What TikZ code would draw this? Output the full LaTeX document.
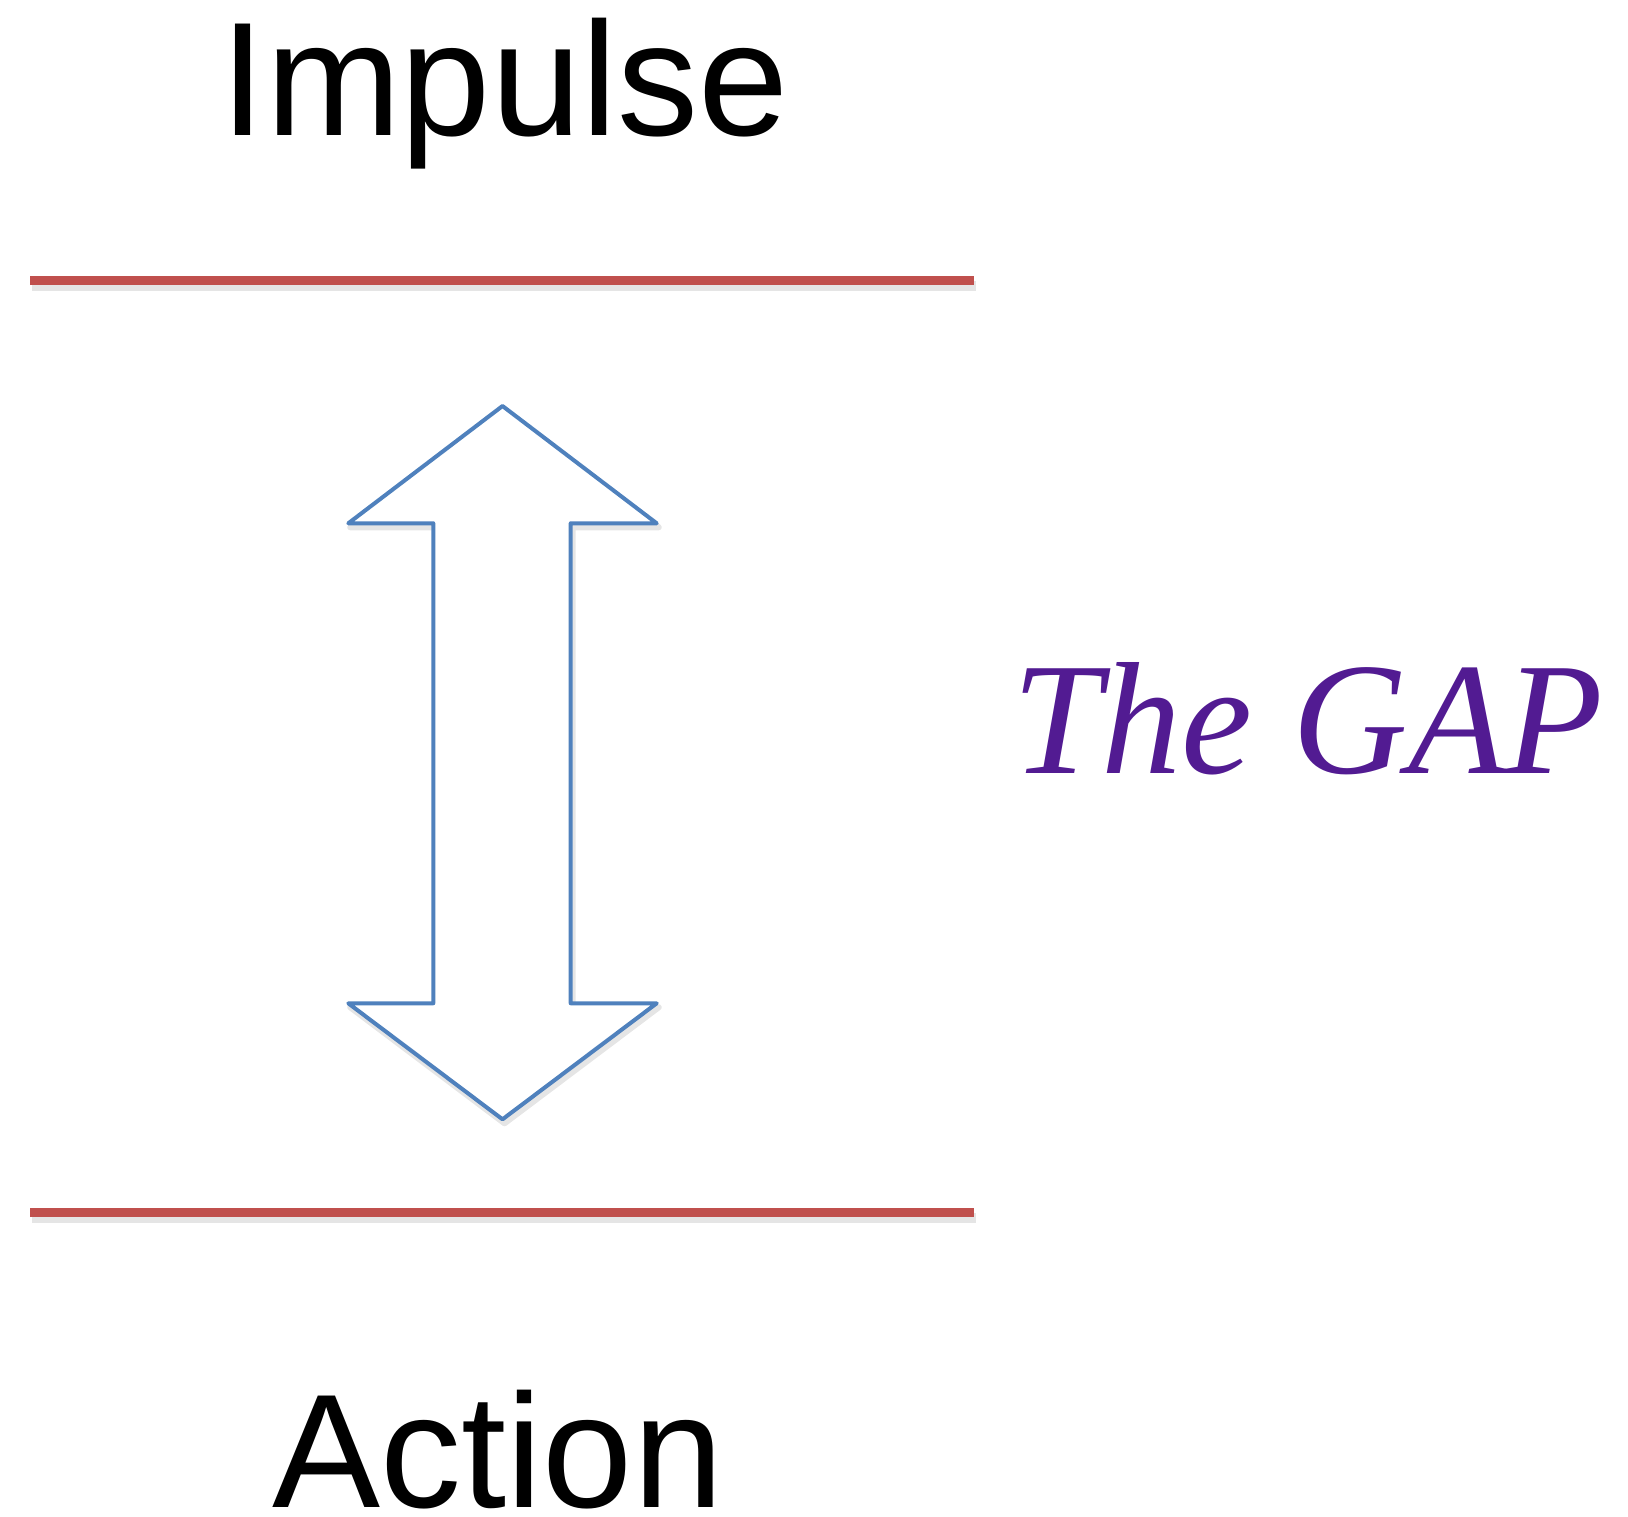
\documentclass[tikz,border=0pt]{standalone}
\usepackage{fontspec}
\setmainfont{Liberation Sans}
\newfontfamily\gapfont{Liberation Serif}
\definecolor{redline}{HTML}{C0504D}
\definecolor{bluearrow}{HTML}{4F81BD}
\definecolor{gappurple}{HTML}{521B92}
\begin{document}
\begin{tikzpicture}[x=0.5pt,y=-0.5pt,
  redbar/.style={draw=redline,line width=4.5pt},
  shadowbar/.style={draw=black,opacity=0.10,line width=5pt},
  arrowshape/.style={draw=bluearrow,line width=2pt,line join=round,fill=white},
  bigtext/.style={font=\fontsize{81}{90}\selectfont,anchor=base,inner sep=0pt},
  gaptext/.style={font=\gapfont\itshape\fontsize{80}{90}\selectfont,text=gappurple,anchor=base,inner sep=0pt}]
\useasboundingbox (0,0) rectangle (1628,1516);
% shadows
\draw[shadowbar] (32,286) -- (976,286);
\draw[shadowbar] (32,1218) -- (976,1218);
\draw[draw=black,opacity=0.10,line width=3pt,line join=round]
  (504.5,410) -- (658.7,527.3) -- (572.7,527.3) -- (572.7,1007.3) -- (658.7,1007.3)
  -- (504.5,1123.3) -- (350.3,1007.3) -- (435.3,1007.3) -- (435.3,527.3) -- (350.3,527.3) -- cycle;
% red lines
\coordinate (t1) at (30,280);
\coordinate (t2) at (974,280);
\coordinate (b1) at (30,1212);
\coordinate (b2) at (974,1212);
\draw[redbar] (t1) -- (t2);
\draw[redbar] (b1) -- (b2);
% double arrow
\draw[arrowshape]
  (502.5,406) -- (656.7,523.3) -- (570.7,523.3) -- (570.7,1003.3) -- (656.7,1003.3)
  -- (502.5,1119.3) -- (348.3,1003.3) -- (433.3,1003.3) -- (433.3,523.3) -- (348.3,523.3) -- cycle;
% texts
\node[bigtext] (impulse) at (504.6,135) {Impulse};
\node[bigtext] (action) at (498,1507.6) {Action};
\node[gaptext] (gap) at (1308,773.5) {The GAP};
\end{tikzpicture}
\end{document}
